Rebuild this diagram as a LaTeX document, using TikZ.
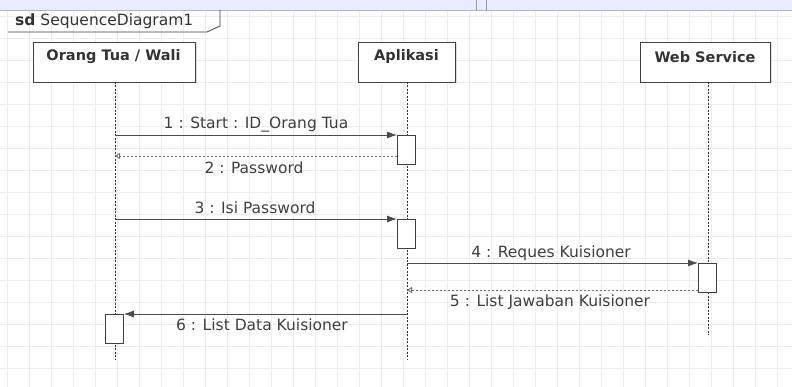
\documentclass[tikz,border=0pt]{standalone}
\usepackage{fontspec}
\setmainfont{DejaVu Sans}
\usetikzlibrary{arrows.meta,shadows}
\begin{document}
\begin{tikzpicture}[x=1pt,y=-1pt,
  actorbox/.style={draw=black!75,line width=0.8pt,fill=white,minimum width=#1,minimum height=40pt,inner sep=0pt,drop shadow={shadow xshift=1.5pt,shadow yshift=-1.5pt,opacity=0.25}},
  actortext/.style={font=\bfseries\fontsize{14.5}{16}\selectfont,text=black!80,inner sep=0pt},
  lifeline/.style={draw=black!80,dashed,dash pattern=on 2pt off 1.5pt,line width=0.5pt},
  actbox/.style={draw=black!75,line width=0.8pt,fill=white,minimum width=18pt,minimum height=29pt,inner sep=0pt,drop shadow={shadow xshift=1pt,shadow yshift=-1pt,opacity=0.25}},
  callmsg/.style={draw=black!70,line width=0.8pt,-{Latex[length=10pt,width=7pt]}},
  retmsg/.style={draw=black!55,line width=0.9pt,dash pattern=on 2pt off 2pt,-{Triangle[open,length=5pt,width=6pt]}},
  msgtext/.style={font=\fontsize{15.5}{17}\selectfont,text=black!75,inner sep=0pt},
  gridline/.style={draw=black!7,line width=0.4pt}
]
\useasboundingbox (0,0) rectangle (792,387);
\fill[white] (0,0) rectangle (792,387);
% grid
\foreach \gx in {7,29,...,792} {\draw[gridline] (\gx,10) -- (\gx,387);}
\foreach \gy in {16,38,...,387} {\draw[gridline] (0,\gy) -- (792,\gy);}
% top band
\fill[blue!8] (0,0) rectangle (792,10);
\draw[blue!25!black!30,line width=0.6pt] (0,10) -- (792,10);
\draw[black!40,line width=0.5pt] (476,0) -- (476,10);
\draw[black!40,line width=0.5pt] (486,0) -- (486,10);
% frame label
\draw[black!75,line width=0.8pt] (8,32) -- (207,32) -- (220,26) -- (220,10);
\node[anchor=west,font=\fontsize{15.5}{17}\selectfont,text=black!80,inner sep=0pt] (sd) at (15,21) {\textbf{sd} SequenceDiagram1};
% actors
\node[actorbox=162pt] (ot) at (114,62) {};
\node[actortext] (otl) at (113.5,57) {Orang Tua / Wali};
\node[actorbox=97pt] (ap) at (406.5,62) {};
\node[actortext] (apl) at (406.5,57) {Aplikasi};
\node[actorbox=130pt] (ws) at (705,62) {};
\node[actortext] (wsl) at (705,57) {Web Service};
% lifeline ends
\coordinate (otE) at (115,360);
\coordinate (apE) at (407,360);
\coordinate (wsE) at (708,335);
\draw[lifeline] (115,82) -- (otE);
\draw[lifeline] (407,82) -- (apE);
\draw[lifeline] (708,82) -- (wsE);
% activation boxes
\node[actbox,anchor=north west] (a1) at (397,135) {};
\node[actbox,anchor=north west] (a2) at (397,219) {};
\node[actbox,anchor=north west] (a3) at (698,263) {};
\node[actbox,anchor=north west] (a4) at (105,314) {};
% message sources
\coordinate (s1) at (115,135);
\coordinate (s3) at (115,219);
\coordinate (s4) at (407,263);
\coordinate (s6) at (407,314);
\coordinate (t2) at (115,156);
\coordinate (t5) at (407,290);
% messages
\draw[callmsg] (s1) -- (a1.north west);
\node[msgtext] (l1) at (256,125) {1 : Start : ID\_Orang Tua};
\draw[retmsg] (a1.west |- t2) -- (t2);
\node[msgtext] (l2) at (254,168) {2 : Password};
\draw[callmsg] (s3) -- (a2.north west);
\node[msgtext] (l3) at (255,208) {3 : Isi Password};
\draw[callmsg] (s4) -- (a3.north west);
\node[msgtext] (l4) at (551,253) {4 : Reques Kuisioner};
\draw[retmsg] (a3.west |- t5) -- (t5);
\node[msgtext] (l5) at (550,302) {5 : List Jawaban Kuisioner};
\draw[callmsg] (s6) -- (a4.north east);
\node[msgtext] (l6) at (262,325) {6 : List Data Kuisioner};
\end{tikzpicture}
\end{document}
